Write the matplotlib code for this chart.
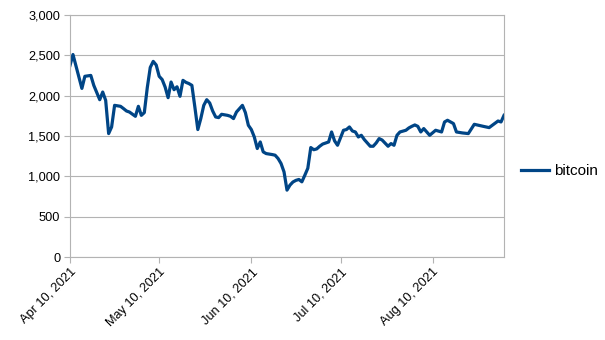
import matplotlib
matplotlib.use("Agg")
import matplotlib.pyplot as plt
import matplotlib.dates as mdates
import matplotlib.ticker as mticker
import pandas as pd

# bitcoin series, days counted from the first date
start_date = "2021-04-10"
day_offsets = [
    0, 1, 4, 5, 7, 8, 10, 11, 12, 13, 14, 15, 17, 18, 19, 20, 22, 23, 24, 25,
    26, 27, 28, 29, 30, 31, 32, 33, 34, 35, 36, 37, 38, 39, 40, 41, 42, 43, 44,
    45, 46, 47, 48, 49, 50, 51, 53, 54, 55, 56, 58, 59, 60, 61, 62, 63, 64, 65,
    66, 68, 69, 70, 71, 72, 73, 74, 75, 76, 77, 78, 79, 80, 81, 82, 83, 84, 85,
    87, 88, 89, 90, 92, 93, 94, 95, 96, 97, 98, 99, 101, 102, 103, 104, 105,
    107, 108, 109, 110, 111, 113, 114, 115, 116, 117, 118, 119, 121, 123, 125,
    126, 127, 129, 130, 132, 134, 136, 139, 141, 144, 145, 146,
]
bitcoin = [
    2375, 2510, 2090, 2240, 2251, 2128, 1950, 2045, 1942, 1530, 1612, 1880,
    1868, 1840, 1810, 1797, 1744, 1868, 1756, 1790, 2100, 2350, 2425, 2380,
    2240, 2200, 2107, 1975, 2169, 2074, 2110, 1992, 2190, 2165, 2150, 2128,
    1860, 1580, 1716, 1880, 1950, 1909, 1810, 1736, 1728, 1769, 1756, 1744,
    1716, 1797, 1880, 1790, 1633, 1580, 1488, 1345, 1426, 1303, 1282, 1270,
    1262, 1221, 1159, 1055, 829, 891, 930, 950, 961, 932, 1014, 1100, 1357,
    1330, 1340, 1373, 1400, 1426, 1550, 1440, 1385, 1571, 1580, 1612, 1562,
    1550, 1488, 1509, 1456, 1373, 1373, 1414, 1468, 1450, 1373, 1406, 1385,
    1509, 1550, 1571, 1600, 1620, 1637, 1620, 1550, 1592, 1509, 1571, 1550,
    1674, 1695, 1654, 1550, 1538, 1530, 1645, 1620, 1604, 1686, 1674, 1756,
]

dates = pd.Timestamp(start_date) + pd.to_timedelta(day_offsets, unit="D")

plt.rcParams["font.family"] = ["Liberation Sans", "DejaVu Sans"]
plt.rcParams["font.size"] = 9.2

grid_color = "#b3b3b3"
line_color = "#004586"

fig = plt.figure(figsize=(6.05, 3.40), dpi=100)
ax = fig.add_axes([70 / 605, 83 / 340, 434 / 605, 242 / 340])

line, = ax.plot(dates, bitcoin, color=line_color, linewidth=2.3,
                solid_joinstyle="round", label="bitcoin")

ax.set_xlim(pd.Timestamp(start_date), pd.Timestamp(start_date) + pd.Timedelta(days=146))
ax.set_ylim(0, 3000)

ax.yaxis.set_major_locator(mticker.MultipleLocator(500))
ax.yaxis.set_major_formatter(mticker.StrMethodFormatter("{x:,.0f}"))
ax.xaxis.set_major_locator(mdates.MonthLocator(bymonthday=10))
ax.xaxis.set_major_formatter(mdates.DateFormatter("%b %d, %Y"))

ax.grid(axis="y", color=grid_color, linewidth=0.8)
ax.set_axisbelow(True)
for spine in ax.spines.values():
    spine.set_color(grid_color)
    spine.set_linewidth(0.8)

ax.tick_params(axis="both", colors=grid_color, labelcolor="black", width=0.8)
ax.tick_params(axis="y", length=4, pad=3)
ax.tick_params(axis="x", length=4.5, pad=2)
for lbl in ax.get_xticklabels():
    lbl.set_rotation(45)
    lbl.set_rotation_mode("anchor")
    lbl.set_ha("right")
    lbl.set_va("top")

fig.legend(handles=[line], loc="center left", bbox_to_anchor=(521 / 605, 1 - 171 / 340),
           frameon=False, fontsize=11, handlelength=1.85, handletextpad=0.3,
           borderaxespad=0, borderpad=0)

fig.savefig("out.png", dpi=100)
